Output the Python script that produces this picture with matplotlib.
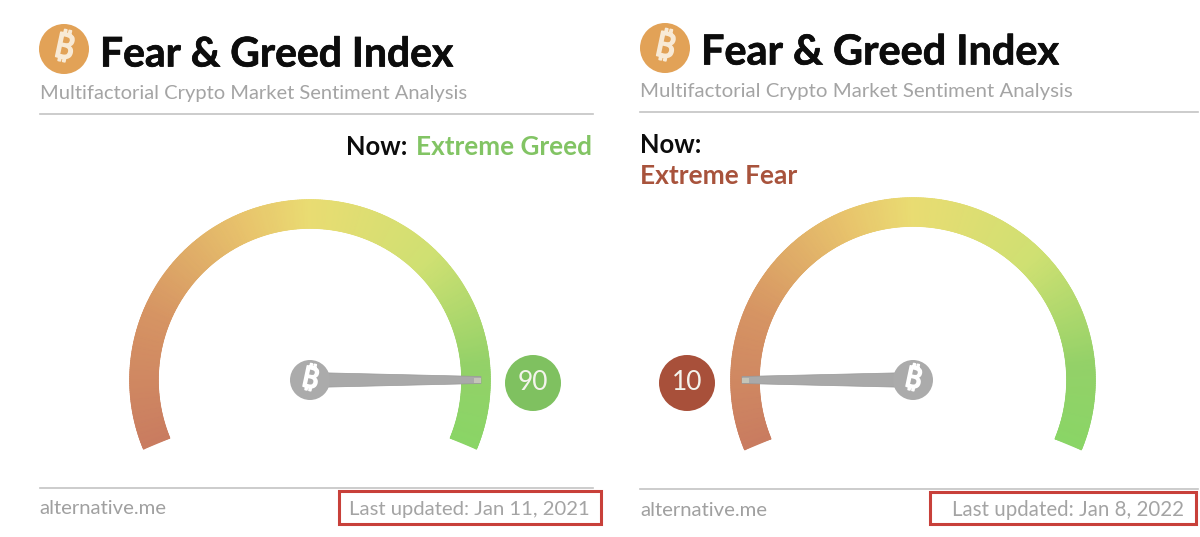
import numpy as np
import matplotlib
matplotlib.use('Agg')
import matplotlib.pyplot as plt
import matplotlib.patheffects as pe
from matplotlib.collections import LineCollection
from matplotlib.colors import LinearSegmentedColormap
from matplotlib.patches import Circle, Polygon, Rectangle

title = 'Fear & Greed Index'
subtitle = 'Multifactorial Crypto Market Sentiment Analysis'
site = 'alternative.me'
values = [90, 10]
states = ['Extreme Greed', 'Extreme Fear']
updated = ['Last updated: Jan 11, 2021', 'Last updated: Jan 8, 2022']
badge_colors = ['#7fc160', '#a8503a']
state_colors = ['#82c464', '#a8533c']

gauge_stops = [0, 0.2, 0.4, 0.5, 0.7, 0.88, 1]
gauge_colors = ['#c97c60', '#d69463', '#e8c46c', '#e9dc72', '#cfe072', '#93d168', '#8ad566']
cmap = LinearSegmentedColormap.from_list('gauge', list(zip(gauge_stops, gauge_colors)))

coin_fonts = ['Noto Sans', 'Roboto', 'Inter', 'Open Sans', 'Liberation Sans', 'DejaVu Sans']
heavy = [pe.withStroke(linewidth=0.5, foreground='#0c0c0c')]


def val_angle(v):
    # gauge runs 202.5 deg (value 0) clockwise to -22.5 deg (value 100)
    return np.radians(202.5 - 2.25 * v)


def coin(ax, x, y, r, color, size, txt='white'):
    ax.add_patch(Circle((x, y), r, fc=color, ec='none', zorder=6))
    ax.text(x, y, '\u20bf', fontsize=size, color=txt, ha='center', va='center',
            rotation=-12, family=coin_fonts, fontweight='bold', zorder=7,
            path_effects=[pe.withStroke(linewidth=1.2, foreground=txt)])


def gauge(ax, cx, cy, rout, rin, value, badge_x, color):
    v = np.linspace(0, 100, 401)
    rr = np.array([rin, rout])
    V, R = np.meshgrid(v, rr)
    X = cx + R * np.cos(val_angle(V))
    Y = cy - R * np.sin(val_angle(V))
    ax.pcolormesh(X, Y, V, cmap=cmap, shading='gouraud', zorder=2)

    # smooth the ring edges with thin lines in the same colours
    for r in rr:
        px = cx + r * np.cos(val_angle(v))
        py = cy - r * np.sin(val_angle(v))
        pts = np.column_stack([px, py])
        segs = np.stack([pts[:-1], pts[1:]], axis=1)
        ax.add_collection(LineCollection(segs, colors=cmap(v[:-1] / 100), linewidths=1.1,
                                         capstyle='round', zorder=3))

    a = val_angle(value)
    d = np.array([np.cos(a), -np.sin(a)])
    n = np.array([d[1], -d[0]])
    hub = np.array([cx, cy])
    tip = hub + d * 171
    ax.add_patch(Polygon([hub + n * 7.5, tip + n * 3.5, tip - n * 3.5, hub - n * 7.5],
                         fc='#a9a9a9', ec='#999999', lw=0.5, zorder=5))
    mid = hub + d * 164
    ax.add_patch(Polygon([mid + n * 2.5, tip + n * 2.5, tip - n * 2.5, mid - n * 2.5],
                         fc='#c4c4b8', ec='none', zorder=5))
    coin(ax, cx, cy, 20, '#ababab', 21)

    ax.add_patch(Circle((badge_x, cy + 3), 28, fc=color, ec='none', zorder=4))
    ax.text(badge_x, cy + 3, str(value), fontsize=19, color='#f4f4ec', ha='center',
            va='center', family='Lato', zorder=5)


fig = plt.figure(figsize=(12, 5.37), dpi=100)
ax = fig.add_axes([0, 0, 1, 1])
ax.set_xlim(0, 1200)
ax.set_ylim(537, 0)
ax.axis('off')

# left panel
coin(ax, 64, 49, 25, '#e2a257', 25, '#f8ead6')
ax.text(100, 55, title, fontsize=29.4, fontweight='bold', family='Lato', color='#0c0c0c',
        va='center', path_effects=heavy)
ax.text(40, 94, subtitle, fontsize=14.5, family='Lato', color='#a4a4a4', va='center')
ax.plot([40, 593], [114, 114], color='#c4c4c4', lw=1.2)
ax.text(346, 147, 'Now:', fontsize=18.4, fontweight='bold', family='Lato', color='#0c0c0c', va='center')
ax.text(592, 147, states[0], fontsize=18.8, fontweight='bold', family='Lato',
        color=state_colors[0], va='center', ha='right')
gauge(ax, 310, 380, 180, 152, values[0], 533, badge_colors[0])
ax.plot([40, 593], [488, 488], color='#c4c4c4', lw=1.2)
ax.text(39, 509, site, fontsize=14.6, family='Lato', color='#a0a0a0', va='center')
ax.text(590, 509, updated[0], fontsize=14.6, family='Lato', color='#a4a4a4', va='center', ha='right')
ax.add_patch(Rectangle((339, 491), 262, 33, fc='none', ec='#c8403a', lw=2.2, zorder=8))

# right panel
coin(ax, 665, 48, 25, '#e2a257', 25, '#f8ead6')
ax.text(701, 53, title, fontsize=29.8, fontweight='bold', family='Lato', color='#0c0c0c',
        va='center', path_effects=heavy)
ax.text(640, 92, subtitle, fontsize=14.7, family='Lato', color='#a4a4a4', va='center')
ax.plot([640, 1198], [112, 112], color='#c4c4c4', lw=1.2)
ax.text(640, 145, 'Now:', fontsize=18.4, fontweight='bold', family='Lato', color='#0c0c0c', va='center')
ax.text(640, 176, states[1], fontsize=19, fontweight='bold', family='Lato', color=state_colors[1], va='center')
gauge(ax, 913, 380, 182, 154, values[1], 687, badge_colors[1])
ax.plot([640, 1198], [489, 489], color='#c4c4c4', lw=1.2)
ax.text(640, 510, site, fontsize=14.6, family='Lato', color='#a0a0a0', va='center')
ax.text(1184, 510, updated[1], fontsize=14.8, family='Lato', color='#a4a4a4', va='center', ha='right')
ax.add_patch(Rectangle((930, 492), 266, 32, fc='none', ec='#c8403a', lw=2.2, zorder=8))

fig.savefig('out.png', dpi=100)
